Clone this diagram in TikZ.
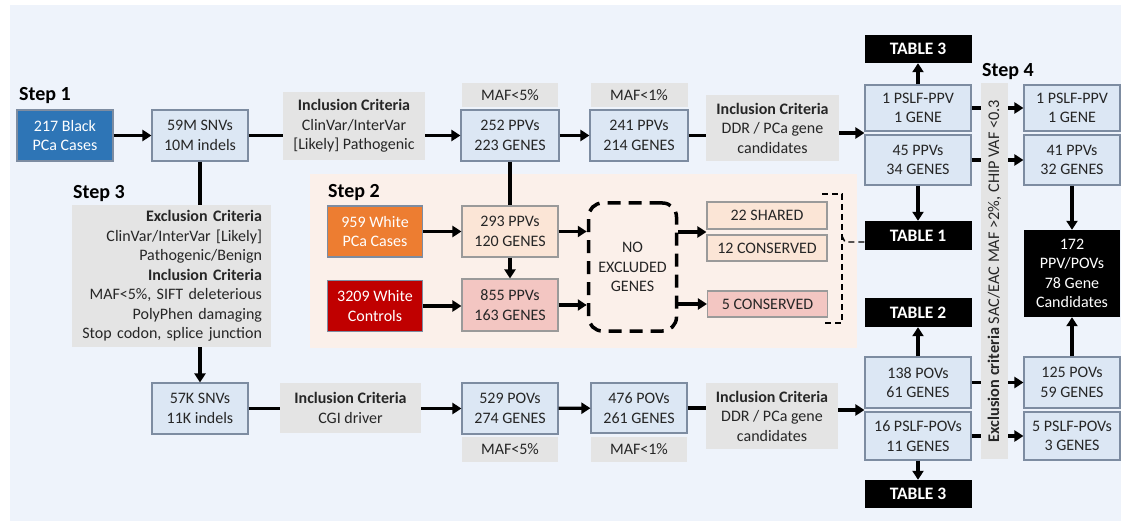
\documentclass[tikz,border=0pt]{standalone}
\usepackage{fontspec}
\setmainfont{Carlito}
\usetikzlibrary{arrows.meta,calc}
\definecolor{bg}{HTML}{EEF3FB}
\definecolor{peach}{HTML}{FBF0EA}
\definecolor{bfill}{HTML}{DCE7F4}
\definecolor{bbord}{HTML}{7D8CA1}
\definecolor{gfill}{HTML}{E4E4E4}
\definecolor{pfill}{HTML}{FBE5D6}
\definecolor{rfill}{HTML}{F3C6C2}
\definecolor{pbord}{HTML}{9A9A9A}
\definecolor{txt}{HTML}{262626}
\definecolor{cblue}{HTML}{2E75B6}
\definecolor{corange}{HTML}{ED7D31}
\definecolor{cred}{HTML}{C00000}
\begin{document}
\begin{tikzpicture}[x=1pt,y=-1pt,
  base/.style={inner sep=0pt, align=center, font=\fontsize{16}{19.5}\selectfont, text=txt},
  sz/.style 2 args={minimum width=#1pt, minimum height=#2pt},
  bbox/.style={base, draw=bbord, line width=1.1pt, fill=bfill},
  gbox/.style={base, fill=gfill},
  pbox/.style={base, draw=pbord, line width=1.1pt, fill=pfill},
  rbox/.style={base, draw=pbord, line width=1.1pt, fill=rfill},
  cbox/.style={base, draw=bbord, line width=1.1pt, fill=#1, text=white},
  tbox/.style={base, fill=black, text=white, font=\fontsize{17.5}{20}\selectfont\bfseries},
  steplbl/.style={inner sep=0pt, font=\fontsize{20}{24}\selectfont\bfseries, text=black},
  ln/.style={line width=3.2pt, draw=black},
  arr/.style={ln, -{Triangle[length=9pt,width=11pt]}},
  thindash/.style={line width=1.4pt, dash pattern=on 6pt off 4pt},
]
\useasboundingbox (0,0) rectangle (1121,521);
\fill[white] (0,0) rectangle (1121,521);
\fill[bg] (10,5) rectangle (1121,521);
\fill[peach] (310,174) rectangle (857,348);

% step labels
\node[steplbl] (st1) at (45,96) {Step 1};
\node[steplbl] (st3) at (99,194) {Step 3};
\node[steplbl] (st2) at (354,192.5) {Step 2};
\node[steplbl] (st4) at (1008,72) {Step 4};

% top row
\node[cbox=cblue, sz={96}{51}] (b217) at (65,135.5) {217 Black\\PCa Cases};
\node[bbox, sz={96}{51}] (snv1) at (200,135.5) {59M SNVs\\10M indels};
\node[gbox, sz={142}{68}] (inc1) at (354,126) {\textbf{Inclusion Criteria}\\ClinVar/InterVar\\{[Likely]} Pathogenic};
\node[gbox, sz={96}{24}] (maf5a) at (510,95) {MAF<5\%};
\node[bbox, sz={98}{51}] (p252) at (510,135.5) {252 PPVs\\223 GENES};
\node[gbox, sz={97}{24}] (maf1a) at (639,95) {MAF<1\%};
\node[bbox, sz={98}{51}] (p241) at (639,135.5) {241 PPVs\\214 GENES};
\node[gbox, sz={133}{66}] (ddr1) at (772.5,128) {\textbf{Inclusion Criteria}\\DDR / PCa gene\\candidates};

% step 3
\node[gbox, sz={199}{142}, text width=181pt, align=right] (s3) at (171.5,276)
 {\textbf{Exclusion Criteria}\\ClinVar/InterVar [Likely]\\Pathogenic/Benign\\\textbf{Inclusion Criteria}\\MAF<5\%, SIFT deleterious\\PolyPhen damaging\\Stop codon, splice junction};

% bottom row
\node[bbox, sz={96}{51}] (snv2) at (200,408.5) {57K SNVs\\11K indels};
\node[gbox, sz={141}{50}] (inc2) at (350.5,408) {\textbf{Inclusion Criteria}\\CGI driver};
\node[bbox, sz={96}{51}] (p529) at (510,408.5) {529 POVs\\274 GENES};
\node[gbox, sz={96}{25}] (maf5b) at (510,449.5) {MAF<5\%};
\node[bbox, sz={96}{50}] (p476) at (639,408) {476 POVs\\261 GENES};
\node[gbox, sz={96}{25}] (maf1b) at (639,449.5) {MAF<1\%};
\node[gbox, sz={132}{66}] (ddr2) at (772,416) {\textbf{Inclusion Criteria}\\DDR / PCa gene\\candidates};

% step 2 panel
\node[cbox=corange, sz={95}{51}] (w959) at (375,231.5) {959 White\\PCa Cases};
\node[cbox=cred, sz={95}{51}] (c3209) at (375,306) {3209 White\\Controls};
\node[pbox, sz={96}{51}] (p293) at (510,231.5) {293 PPVs\\120 GENES};
\node[rbox, sz={96}{52}] (p855) at (510,305) {855 PPVs\\163 GENES};
\node[base, sz={88}{128}, draw=black, line width=3.5pt, dash pattern=on 13pt off 8pt, rounded corners=14pt] (noex) at (632.5,267) {NO\\EXCLUDED\\GENES};
\node[pbox, sz={120}{27}] (s22) at (767,215.5) {22 SHARED};
\node[pbox, sz={120}{26}] (c12) at (767,248) {12 CONSERVED};
\node[rbox, sz={120}{26}] (c5) at (767.5,304) {5 CONSERVED};

% right column 1
\node[tbox, sz={107}{28}] (t3a) at (918,49) {TABLE 3};
\node[bbox, sz={106}{46}] (pslf1) at (918,108) {1 PSLF-PPV\\1 GENE};
\node[bbox, sz={106}{50}] (p45) at (918,160) {45 PPVs\\34 GENES};
\node[tbox, sz={107}{29}] (t1) at (918,235.5) {TABLE 1};
\node[tbox, sz={107}{29}] (t2) at (918,312.5) {TABLE 2};
\node[bbox, sz={106}{51}] (p138) at (918,382.5) {138 POVs\\61 GENES};
\node[bbox, sz={106}{48}] (pslf16) at (918,436) {16 PSLF-POVs\\11 GENES};
\node[tbox, sz={107}{28}] (t3b) at (918,494) {TABLE 3};

% right column 2
\node[bbox, sz={96}{46}] (pslf1r) at (1072,108) {1 PSLF-PPV\\1 GENE};
\node[bbox, sz={96}{50}] (p41) at (1072,160) {41 PPVs\\32 GENES};
\node[base, fill=black, text=white, sz={96}{87}] (c172) at (1072,273.5) {172\\PPV/POVs\\78 Gene\\Candidates};
\node[bbox, sz={96}{51}] (p125) at (1072,382.5) {125 POVs\\59 GENES};
\node[bbox, sz={96}{48}] (pslf5) at (1072,436) {5 PSLF-POVs\\3 GENES};

% junction coordinates
\coordinate (jA) at ($(pslf1.south west)!0.5!(p45.north west)$);
\coordinate (jB) at ($(p138.south west)!0.5!(pslf16.north west)$);
\coordinate (jC) at ($(s22.south west)!0.5!(c12.north west)$);
\coordinate (brk) at (845,242);

% connectors: top row
\draw[arr] (b217) -- (snv1);
\draw[ln] (snv1.east) -- (snv1.east -| inc1.west);
\draw[arr] (p252 -| inc1.east) -- (p252.west);
\draw[arr] (p252) -- (p241);
\draw[ln] (p241.east) -- (p241.east -| ddr1.west);
\draw[arr] (jA -| ddr1.east) -- (jA);

% step 3 connectors
\draw[ln] (snv1.south) -- (snv1.south |- s3.north);
\draw[arr] (snv2 |- s3.south) -- (snv2.north);

% bottom row
\draw[ln] (snv2.east) -- (snv2.east -| inc2.west);
\draw[arr] (p529 -| inc2.east) -- (p529.west);
\draw[arr] (p529) -- (p476);
\draw[ln] (p476.east) -- (p476.east -| ddr2.west);
\draw[arr] (jB -| ddr2.east) -- (jB);

% step 2 connectors
\draw[ln] (p252.south) -- (p293.north);
\draw[arr] (w959) -- (p293);
\draw[arr] (c3209) -- (c3209 -| p855.west);
\draw[arr] (p293) -- (p855);
\draw[arr] (p293.east) -- (p293.east -| noex.west);
\draw[arr] (p855.east) -- (p855.east -| noex.west);
\draw[arr] (jC -| noex.east) -- (jC);
\draw[arr] (c5 -| noex.east) -- (c5.west);

% bracket
\draw[thindash] (822,194) -- (842,194) -- (842,323) -- (822,323);
\draw[thindash] (842,236) -- (brk) -- (brk -| t1.west);

% right side vertical
\draw[arr] (pslf1) -- (t3a);
\draw[arr] (p45) -- (t1);
\draw[arr] (p138) -- (t2);
\draw[arr] (pslf16) -- (t3b);
\draw[arr] (p41) -- (c172);
\draw[arr] (p125) -- (c172);

% through the exclusion bar
\draw[arr] (pslf1) -- (pslf1r);
\draw[arr] (p45) -- (p41);
\draw[arr] (p138) -- (p125);
\draw[arr] (pslf16) -- (pslf5);

\node[gbox, rotate=90, minimum width=376pt, minimum height=27pt, font=\fontsize{16.3}{19}\selectfont] (bar) at (994.5,271)
 {\textbf{Exclusion criteria} SAC/EAC MAF >2\%, CHIP VAF <0.3};
\end{tikzpicture}
\end{document}
